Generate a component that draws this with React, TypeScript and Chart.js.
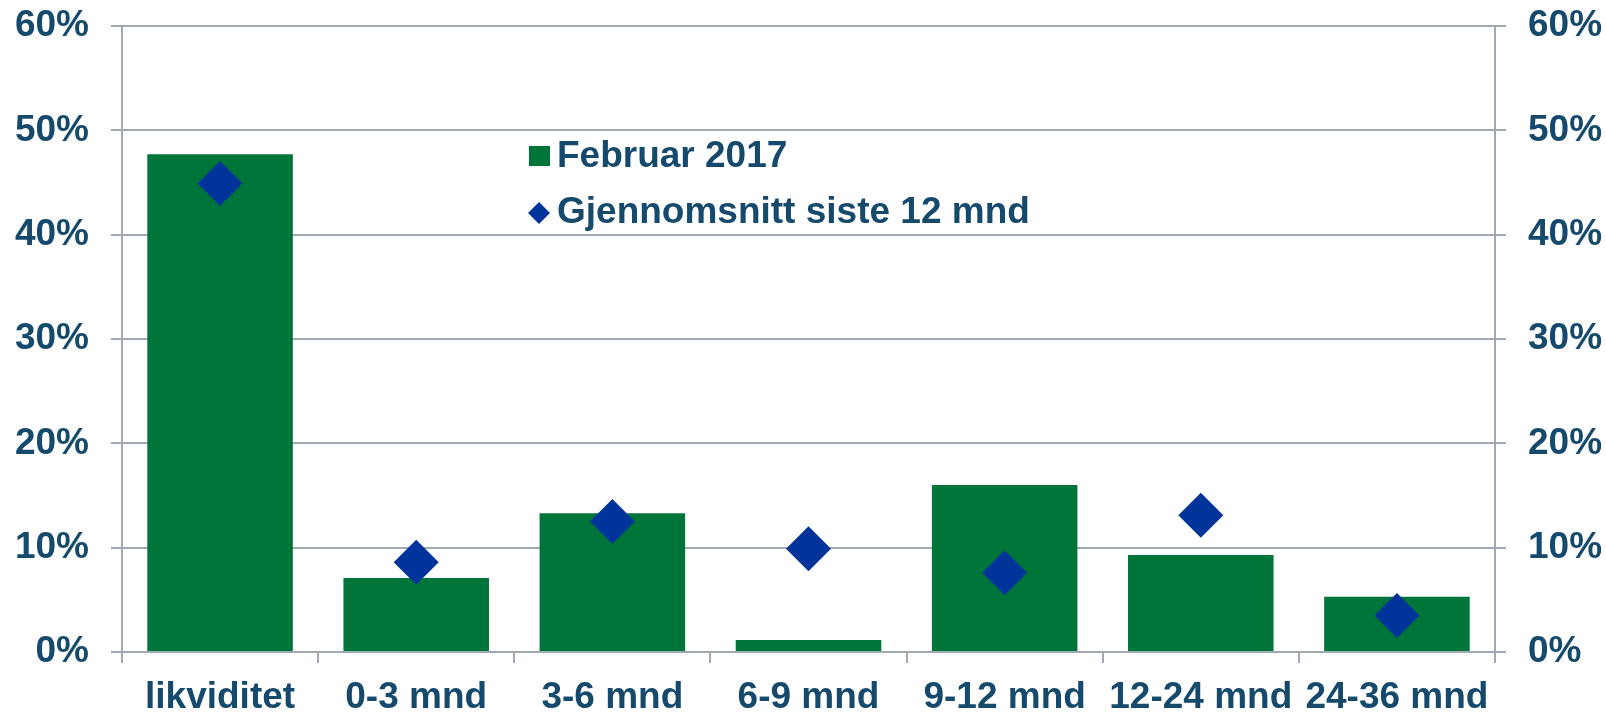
import React, { useEffect, useRef } from 'react';
import { Chart, registerables } from 'chart.js';

Chart.register(...registerables);

const categories = ['likviditet', '0-3 mnd', '3-6 mnd', '6-9 mnd', '9-12 mnd', '12-24 mnd', '24-36 mnd'];
const februar2017 = [47.7, 7.1, 13.3, 1.15, 16.0, 9.3, 5.3];
const snitt12mnd = [44.9, 8.6, 12.5, 9.9, 7.6, 13.1, 3.5];
const seriesLabels = ['Februar 2017', 'Gjennomsnitt siste 12 mnd'];
const yMin = 0;
const yMax = 60;
const yStep = 10;

const GREEN = '#00753A';
const BLUE = '#00349A';
const TEXT = '#154A6C';
const GRID = '#A1A9B3';
const FONT = { family: '"Liberation Sans", Arial, sans-serif', size: 37, weight: 'bold' as const };

const legendPlugin = {
  id: 'innerLegend',
  afterDatasetsDraw(chart: any) {
    const ctx = chart.ctx;
    ctx.save();
    ctx.font = `bold 37px "Liberation Sans", Arial, sans-serif`;
    ctx.textBaseline = 'middle';
    ctx.textAlign = 'left';
    // item 1: square
    ctx.fillStyle = GREEN;
    ctx.fillRect(529, 146, 21, 20);
    ctx.fillStyle = TEXT;
    ctx.fillText(seriesLabels[0], 557, 157);
    // item 2: diamond
    const cx = 539, cy = 213, r = 11;
    ctx.fillStyle = BLUE;
    ctx.beginPath();
    ctx.moveTo(cx - r, cy);
    ctx.lineTo(cx, cy - r);
    ctx.lineTo(cx + r, cy);
    ctx.lineTo(cx, cy + r);
    ctx.closePath();
    ctx.fill();
    ctx.fillStyle = TEXT;
    ctx.fillText(seriesLabels[1], 557, 213);
    ctx.restore();
  },
};

export default function App() {
  const ref = useRef<HTMLCanvasElement>(null);
  useEffect(() => {
    if (!ref.current) return;
    const chart = new Chart(ref.current, {
      type: 'bar',
      data: {
        labels: categories,
        datasets: [
          {
            type: 'bar',
            label: seriesLabels[0],
            data: februar2017,
            backgroundColor: GREEN,
            borderWidth: 0,
            categoryPercentage: 1,
            barPercentage: 0.742,
            order: 2,
            yAxisID: 'y',
          },
          {
            type: 'line',
            label: seriesLabels[1],
            data: snitt12mnd,
            showLine: false,
            pointStyle: 'rectRot',
            pointRadius: 22.5,
            pointBackgroundColor: BLUE,
            pointBorderWidth: 0,
            borderColor: BLUE,
            backgroundColor: BLUE,
            order: 1,
            yAxisID: 'y',
          } as any,
        ],
      },
      options: {
        animation: false,
        responsive: false,
        maintainAspectRatio: false,
        layout: { padding: { top: 26, bottom: 0, left: 0, right: 0 } },
        plugins: {
          legend: { display: false },
          tooltip: { enabled: false },
        },
        scales: {
          x: {
            type: 'category',
            offset: true,
            grid: {
              offset: true,
              drawOnChartArea: false,
              tickLength: 11,
              color: GRID,
              lineWidth: 2,
            },
            border: { color: GRID, width: 2 },
            ticks: {
              font: FONT,
              color: TEXT,
              maxRotation: 0,
              minRotation: 0,
              autoSkip: false,
              padding: 13,
            },
            afterFit: (s: any) => { s.height = 61; s.paddingLeft = 0; s.paddingRight = 0; },
          },
          y: {
            position: 'left',
            min: yMin,
            max: yMax,
            ticks: {
              stepSize: yStep,
              font: FONT,
              color: TEXT,
              padding: 22,
              callback: (v: any) => `${v}%`,
            },
            grid: { color: GRID, lineWidth: 2, tickLength: 11 },
            border: { color: GRID, width: 2 },
            afterFit: (s: any) => { s.width = 122; s.paddingTop = 0; s.paddingBottom = 0; },
          },
          y2: {
            position: 'right',
            min: yMin,
            max: yMax,
            ticks: {
              stepSize: yStep,
              font: FONT,
              color: TEXT,
              padding: 22,
              callback: (v: any) => `${v}%`,
            },
            grid: { drawOnChartArea: false, color: GRID, lineWidth: 2, tickLength: 11 },
            border: { color: GRID, width: 2 },
            afterFit: (s: any) => { s.width = 111; s.paddingTop = 0; s.paddingBottom = 0; },
          },
        },
      },
      plugins: [legendPlugin],
    });
    return () => chart.destroy();
  }, []);

  return (
    <div style={{ position: 'fixed', left: 0, top: 0, width: 1606, height: 713, background: '#fff' }}>
      <canvas ref={ref} width={1606} height={713} style={{ display: 'block', width: 1606, height: 713 }} />
    </div>
  );
}
